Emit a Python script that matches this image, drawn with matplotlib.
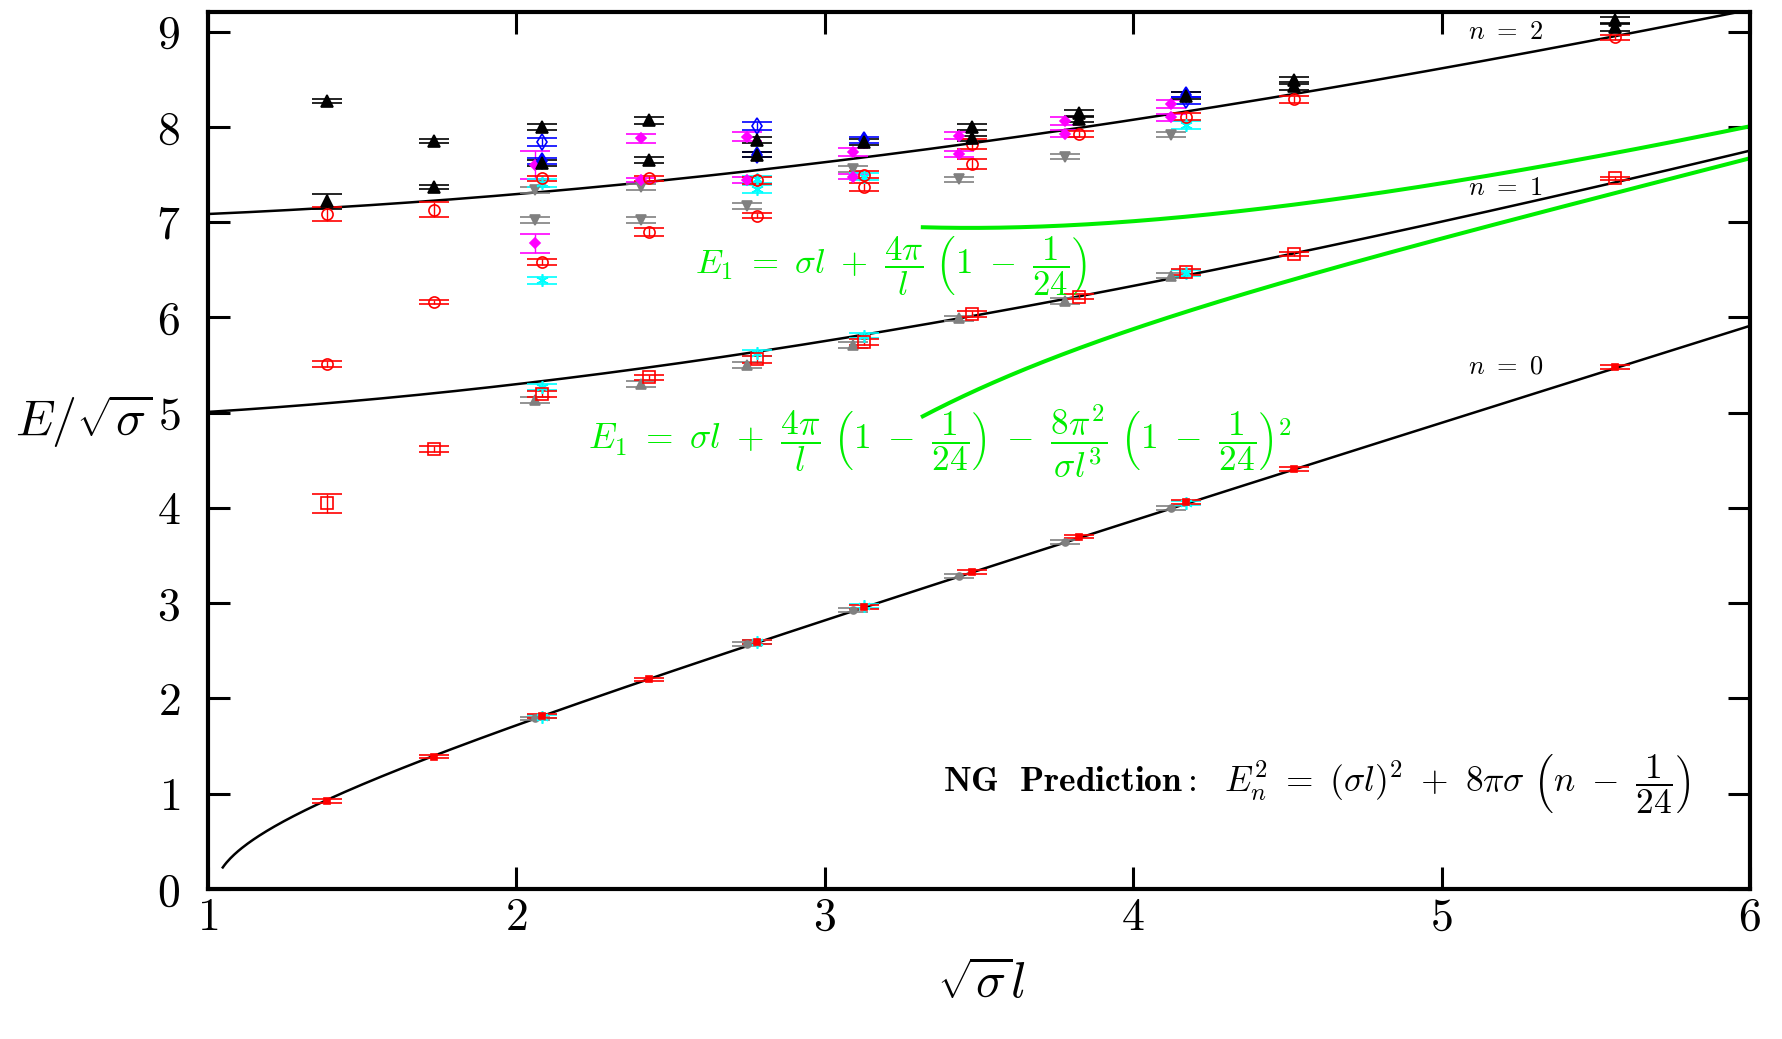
import numpy as np
import matplotlib
matplotlib.use("Agg")
import matplotlib.pyplot as plt

plt.rcParams['mathtext.fontset'] = 'cm'
plt.rcParams['font.family'] = 'serif'
plt.rcParams['font.serif'] = ['cmr10']
plt.rcParams['axes.formatter.use_mathtext'] = True

# --- data (sqrt(sigma) l , E/sqrt(sigma), error) ---
# ground state (n=0)
red_n0_x = [1.387, 1.733, 2.083, 2.431, 2.781, 3.127, 3.476, 3.825, 4.173, 4.521, 5.564]
red_n0_y = [0.92, 1.39, 1.82, 2.20, 2.59, 2.96, 3.33, 3.70, 4.06, 4.41, 5.48]
red_n0_e = [0.02, 0.02, 0.02, 0.02, 0.02, 0.02, 0.02, 0.02, 0.02, 0.02, 0.02]
grey_n0_x = [2.059, 2.749, 3.092, 3.436, 3.779, 4.122]
grey_n0_y = [1.79, 2.57, 2.93, 3.29, 3.64, 4.00]
cyan_n0_x = [2.083, 2.781, 3.127, 4.173]
cyan_n0_y = [1.81, 2.59, 2.97, 4.05]

# first excited level (n=1)
red_sq_x = [1.387, 1.733, 2.083, 2.431, 2.781, 3.127, 3.476, 3.825, 4.173, 4.521, 5.564]
red_sq_y = [4.05, 4.62, 5.20, 5.37, 5.56, 5.74, 6.04, 6.22, 6.48, 6.67, 7.46]
red_sq_e = [0.10, 0.03, 0.03, 0.03, 0.04, 0.03, 0.03, 0.03, 0.03, 0.02, 0.02]
grey_up_x = [2.059, 2.403, 2.749, 3.092, 3.436, 3.779, 4.122]
grey_up_y = [5.13, 5.30, 5.50, 5.71, 5.99, 6.17, 6.44]
cyan_n1_x = [2.083, 2.781, 3.127, 4.173]
cyan_n1_y = [5.27, 5.63, 5.81, 6.47]

# higher states (n=2 region)
black_x = [1.387, 1.387, 1.733, 1.733, 2.083, 2.083, 2.431, 2.431, 2.781, 2.781,
           3.127, 3.476, 3.476, 3.825, 3.825, 4.173, 4.521, 4.521, 5.564, 5.564]
black_y = [8.27, 7.22, 7.85, 7.37, 8.00, 7.62, 8.07, 7.65, 7.86, 7.71,
           7.84, 8.00, 7.88, 8.15, 8.08, 8.33, 8.49, 8.43, 9.12, 9.05]
black_e = [0.02, 0.08, 0.02, 0.02, 0.03, 0.03, 0.04, 0.03, 0.03, 0.03,
           0.03, 0.03, 0.03, 0.03, 0.03, 0.04, 0.04, 0.04, 0.04, 0.04]
red_o_x = [1.387, 1.387, 1.733, 1.733, 2.083, 2.083, 2.431, 2.431, 2.781, 2.781,
           3.127, 3.127, 3.476, 3.476, 3.825, 4.173, 4.521, 5.564]
red_o_y = [7.09, 5.51, 7.13, 6.16, 7.46, 6.58, 7.46, 6.90, 7.44, 7.07,
           7.50, 7.37, 7.82, 7.61, 7.93, 8.11, 8.29, 8.94]
red_o_e = [0.075, 0.03, 0.08, 0.02, 0.03, 0.03, 0.03, 0.04, 0.04, 0.03,
           0.04, 0.04, 0.05, 0.05, 0.03, 0.04, 0.04, 0.03]
mag_x = [2.059, 2.059, 2.403, 2.403, 2.749, 2.749, 3.092, 3.092, 3.436, 3.436,
         3.779, 3.779, 4.122, 4.122]
mag_y = [7.60, 6.78, 7.88, 7.44, 7.90, 7.44, 7.74, 7.48, 7.91, 7.72,
         8.06, 7.93, 8.24, 8.10]
mag_e = [0.15, 0.10, 0.05, 0.02, 0.05, 0.03, 0.04, 0.03, 0.04, 0.03,
         0.04, 0.04, 0.04, 0.04]
grey_dn_x = [2.059, 2.059, 2.403, 2.403, 2.749, 3.092, 3.436, 3.779, 4.122]
grey_dn_y = [7.34, 7.02, 7.37, 7.02, 7.17, 7.56, 7.45, 7.69, 7.92]
blue_open_x = [2.083, 2.781, 4.173]
blue_open_y = [7.84, 8.01, 8.28]
blue_fill_x = [2.083, 2.781, 3.127, 4.173]
blue_fill_y = [7.64, 7.71, 7.86, 8.34]
cyan_up_x = [2.083, 2.083, 2.781, 2.781, 3.127, 4.173]
cyan_up_y = [7.41, 6.39, 7.45, 7.35, 7.48, 8.02]

# --- Nambu-Goto curves ---
def ng(x, n):
    return np.sqrt(x**2 + 8*np.pi*(n - 1/24))

xs = np.linspace(1.0, 6.0, 800)
x0 = np.linspace(1.048, 6.0, 800)
xg = np.linspace(3.318, 6.0, 400)
g1 = xg + 4*np.pi/xg*(1 - 1/24)
g2 = g1 - 8*np.pi**2/xg**3*(1 - 1/24)**2

fig = plt.figure(figsize=(17.82, 10.39), dpi=100)
ax = fig.add_axes([0.1167, 0.1444, 0.8653, 0.8443])

ax.plot(x0, ng(x0, 0), color='black', lw=1.8, zorder=2)
ax.plot(xs, ng(xs, 1), color='black', lw=1.8, zorder=2)
ax.plot(xs, ng(xs, 2), color='black', lw=1.8, zorder=2)
ax.plot(xg, g1, color='#00ee00', lw=2.9, zorder=2)
ax.plot(xg, g2, color='#00ee00', lw=2.9, zorder=2)

def eb(x, y, e, mk, col, mfc, ms, lw=1.4):
    if np.isscalar(e):
        e = [e]*len(x)
    ax.errorbar(x, y, yerr=e, marker=mk, ls='none', color=col, mfc=mfc, mec=col,
                ms=ms, capsize=11, capthick=lw, elinewidth=1.0, mew=1.2, zorder=3)

ast = (6, 2, 0)
eb(grey_n0_x, grey_n0_y, 0.02, 'o', 'grey', 'grey', 5)
eb(cyan_n0_x, cyan_n0_y, 0.02, ast, 'cyan', 'cyan', 9)
eb(red_n0_x, red_n0_y, red_n0_e, 's', 'red', 'red', 5, 1.6)

eb(grey_up_x, grey_up_y, 0.03, '^', 'grey', 'grey', 7)
eb(cyan_n1_x, cyan_n1_y, 0.03, ast, 'cyan', 'cyan', 9)
eb(red_sq_x, red_sq_y, red_sq_e, 's', 'red', 'none', 8)

eb(grey_dn_x, grey_dn_y, 0.03, 'v', 'grey', 'grey', 7)
eb(mag_x, mag_y, mag_e, 'D', 'magenta', 'magenta', 5.5)
eb(cyan_up_x, cyan_up_y, 0.04, ast, 'cyan', 'cyan', 9)
eb(red_o_x, red_o_y, red_o_e, 'o', 'red', 'none', 8)
eb(blue_open_x, blue_open_y, 0.04, 'd', 'blue', 'none', 8)
eb(blue_fill_x, blue_fill_y, 0.03, 'd', 'blue', 'blue', 8, 2.2)
eb(black_x, black_y, black_e, '^', 'black', 'black', 8, 2.6)

ax.set_xlim(1, 6)
ax.set_ylim(0, 9.21)
ax.set_xticks(range(1, 7))
ax.set_yticks(range(0, 10))
for s in ax.spines.values():
    s.set_linewidth(3)
ax.tick_params(which='major', direction='in', length=16, width=2.2,
               top=True, right=True, labelsize=33)
ax.tick_params(axis='x', pad=6)
ax.tick_params(axis='y', pad=20)

ax.text(5.085, 9.0, r'$n\ =\ 2$', fontsize=19, va='center', ha='left')
ax.text(5.085, 7.36, r'$n\ =\ 1$', fontsize=19, va='center', ha='left')
ax.text(5.085, 5.48, r'$n\ =\ 0$', fontsize=19, va='center', ha='left')

ax.text(2.58, 6.55, r'$E_1\ =\ \sigma l\ +\ \dfrac{4\pi}{l}\ \left(1\ -\ \dfrac{1}{24}\right)$',
        color='#00ee00', fontsize=25, va='center', ha='left')
ax.text(2.231, 4.70, r'$E_1\ =\ \sigma l\ +\ \dfrac{4\pi}{l}\ \left(1\ -\ \dfrac{1}{24}\right)\ -\ '
        r'\dfrac{8\pi^2}{\sigma l^3}\ \left(1\ -\ \dfrac{1}{24}\right)^2$',
        color='#00ee00', fontsize=25.5, va='center', ha='left')
ax.text(3.384, 1.10, r'$\mathbf{NG\ \ Prediction}\mathrm{:}\ \ E_n^2\ =\ (\sigma l)^2\ +\ 8\pi\sigma\ '
        r'\left(n\ -\ \dfrac{1}{24}\right)$', fontsize=25.5, va='center', ha='left')

fig.text(0.5505, 0.053, r'$\sqrt{\sigma}l$', fontsize=36, ha='center', va='center')
fig.text(0.047, 0.595, r'$E/\sqrt{\sigma}$', fontsize=36, ha='center', va='center')

fig.savefig('out.png', dpi=100)
